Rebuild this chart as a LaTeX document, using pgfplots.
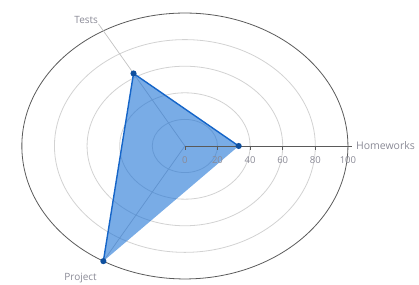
\documentclass[border=0pt]{standalone}
\usepackage{fontspec}
\setmainfont{Open Sans}
\usepackage{pgfplots}
\pgfplotsset{compat=1.18}
\definecolor{gridgray}{HTML}{D2D2D2}
\definecolor{outergray}{HTML}{5A5A5A}
\definecolor{labgray}{HTML}{8A8A96}
\definecolor{radarblue}{HTML}{1F74D6}
\definecolor{radarline}{HTML}{1565C8}
\definecolor{markblue}{HTML}{0E4F9E}
\begin{document}
\begin{tikzpicture}
\useasboundingbox (0,0) rectangle (419pt,284pt);
\begin{axis}[
  at={(0,0)}, anchor=south west,
  scale only axis, width=419pt, height=284pt,
  hide axis, clip=false,
  xmin=-113.4, xmax=143.6, ymin=-103.8, ymax=109.8,
]
% grid circles
\pgfplotsinvokeforeach{20,40,60,80}{
  \draw[gridgray, line width=0.8pt] (axis cs:0,0) ellipse [x radius=#1, y radius=#1];
}
\draw[outergray, line width=0.8pt] (axis cs:0,0) ellipse [x radius=100, y radius=100];
% spokes
\draw[gridgray!80!gray, line width=0.7pt] (axis cs:0,0) -- (axis cs:-53,91.8);
\draw[gridgray!80!gray, line width=0.7pt] (axis cs:0,0) -- (axis cs:-50,-86.6);
% data fill
\addplot[draw=none, fill=radarblue, fill opacity=0.6, data cs=polar] coordinates {(0,33) (120,63) (240,100)} -- cycle;
% main axis
\draw[outergray, line width=0.8pt] (axis cs:0,0) -- (axis cs:102.5,0);
\pgfplotsinvokeforeach{0,20,40,60,80}{
  \draw[outergray, line width=0.6pt] (axis cs:#1,0) -- (axis cs:#1,-3.2);
}
\pgfplotsinvokeforeach{0,20,40,60,80,100}{
  \node[labgray, font=\fontsize{9.5}{11}\selectfont, anchor=north] at (axis cs:#1,-5.5) {#1};
}
% data line
\addplot[radarline, line width=1.4pt, data cs=polar, mark=*, mark size=2.3pt, mark options={fill=markblue, draw=markblue}] coordinates {(0,33) (120,63) (240,100)};
% labels
\node[labgray, font=\fontsize{10.5}{12}\selectfont, anchor=west] at (axis cs:102.8,0.5) {Homeworks};
\node[labgray, font=\fontsize{10}{12}\selectfont] at (axis cs:-60.5,94.5) {Tests};
\node[labgray, font=\fontsize{10}{12}\selectfont] at (axis cs:-64,-99.5) {Project};
\end{axis}
\end{tikzpicture}
\end{document}
